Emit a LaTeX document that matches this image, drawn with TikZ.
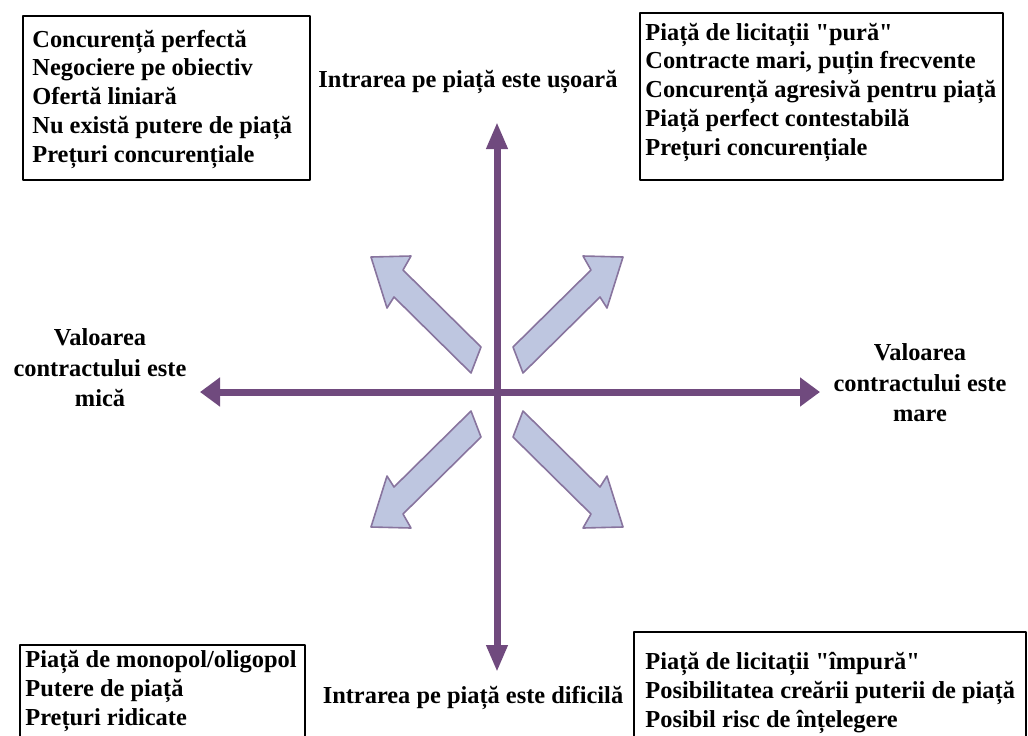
\documentclass[tikz,border=0pt]{standalone}
\usepackage{fontspec}
\setmainfont{Liberation Serif}[Ligatures=TeXOff]
\usetikzlibrary{arrows.meta}
\definecolor{axispurple}{RGB}{112,74,126}
\definecolor{arrowfill}{RGB}{190,198,224}
\definecolor{arrowedge}{RGB}{136,116,158}
\newcommand\boxfont{\bfseries\fontsize{12.2}{14.35}\selectfont}
\newcommand\sidefont{\bfseries\fontsize{12.2}{15.3}\selectfont}

\begin{document}
\begin{tikzpicture}[x=0.5pt, y=-0.5pt, line join=round,
    axis/.style={axispurple, line width=3.5pt},
    haxis/.style={axis, {Triangle[length=10pt,width=14pt]}-{Triangle[length=10pt,width=14pt]}},
    vaxis/.style={axis, {Triangle[length=13.5pt,width=10pt]}-{Triangle[length=13.5pt,width=10pt]}},
    boxline/.style={draw=black, line width=0.7pt},
    boxtext/.style={anchor=base west, align=left, inner sep=0pt, font=\boxfont},
    sidetext/.style={align=center, inner sep=0pt, font=\sidefont},
    blockarrow/.style={fill=arrowfill, draw=arrowedge, line width=0.8pt}]

  % Page frame, in pixels of the 1028 x 735 picture
  \useasboundingbox (0,0) rectangle (1028,735);
  \clip (0,0) rectangle (1028,735);

  % Axes through the centre
  \coordinate (O) at (497,392);
  \coordinate (W) at (200,392);
  \coordinate (E) at (820,392);
  \coordinate (N) at (497,122);
  \coordinate (S) at (497,672);
  \draw[haxis] (W) -- (E);
  \draw[vaxis] (S) -- (N);

  % Four block arrows pointing away from the centre
  \foreach \sx/\sy in {1/1, -1/1, 1/-1, -1/-1}
    \draw[blockarrow, shift={(O)}, xscale=\sx, yscale=\sy]
      (16,-45) -- (94,-122) -- (86,-136) -- (126,-135)
      -- (110,-84) -- (103,-95) -- (26,-19) -- cycle;

  % Top left quadrant (base = last line)
  \draw[boxline] (23,16) rectangle (310,180);
  \node[boxtext] (perfect) at (32,162)
    {Concurență perfectă\\Negociere pe obiectiv\\Ofertă liniară\\Nu există putere de piață\\Prețuri concurențiale};

  % Top right quadrant
  \draw[boxline] (640,13) rectangle (1003,180);
  \node[boxtext] (pure) at (645,155)
    {Piață de licitații "pură"\\Contracte mari, puțin frecvente\\Concurență agresivă pentru piață\\Piață perfect contestabilă\\Prețuri concurențiale};

  % Bottom left quadrant
  \draw[boxline] (20,645) rectangle (305,760);
  \node[boxtext] (monopoly) at (25,725)
    {Piață de monopol/oligopol\\Putere de piață\\Prețuri ridicate};

  % Bottom right quadrant
  \draw[boxline] (634,632) rectangle (1026,760);
  \node[boxtext] (impure) at (645,727)
    {Piață de licitații "împură"\\Posibilitatea creării puterii de piață\\Posibil risc de înțelegere};

  % Axis labels
  \node[boxtext, anchor=base] (easy) at (468,87) {Intrarea pe piață este ușoară};
  \node[boxtext, anchor=base] (hard) at (473,703) {Intrarea pe piață este dificilă};
  \node[sidetext] (small) at (100,368) {Valoarea\\contractului este\\mică};
  \node[sidetext] (large) at (920,383) {Valoarea\\contractului este\\mare};
\end{tikzpicture}
\end{document}
